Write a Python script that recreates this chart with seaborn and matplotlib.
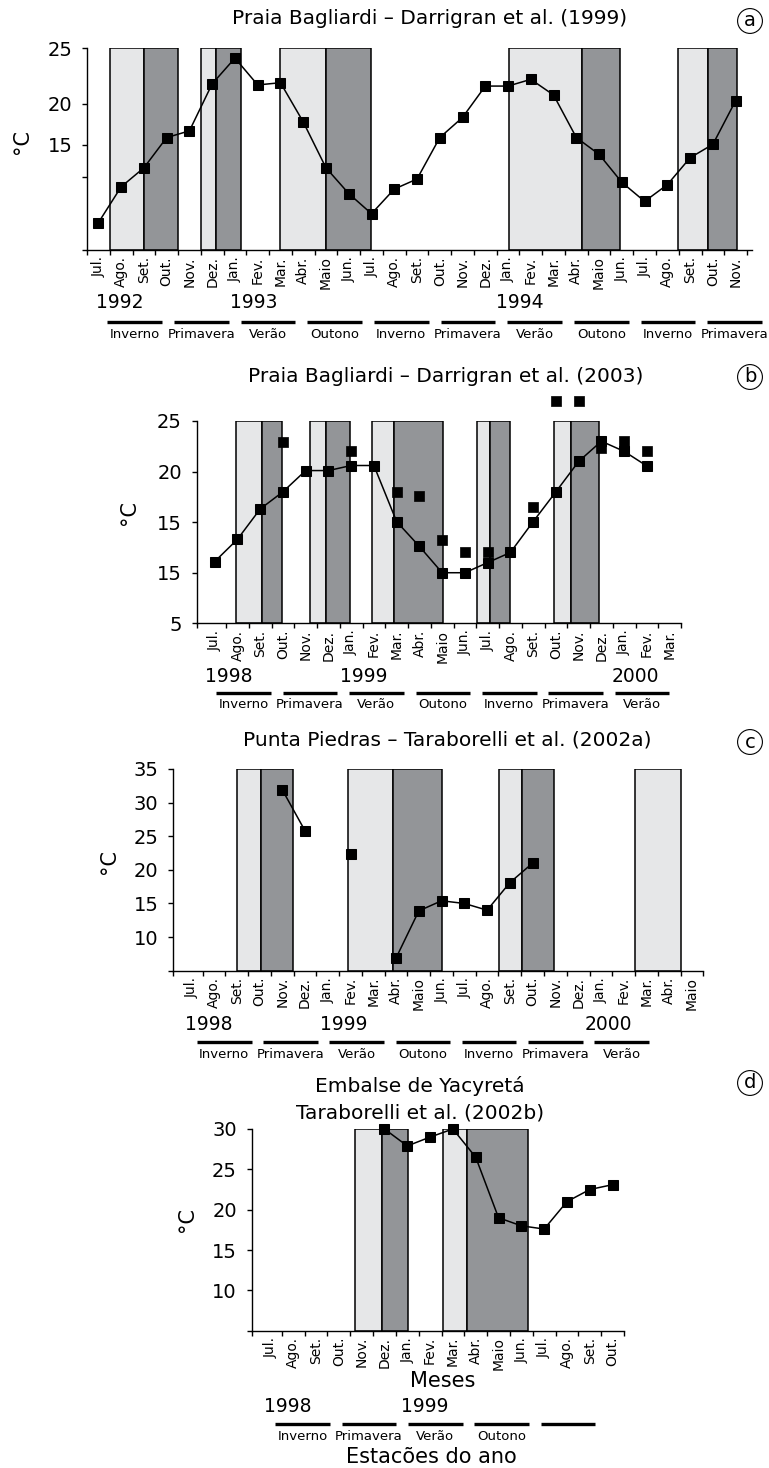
import numpy as np
import pandas as pd
import matplotlib
matplotlib.use('Agg')
import matplotlib.pyplot as plt
import seaborn as sns
from matplotlib.transforms import blended_transform_factory
from matplotlib.lines import Line2D

sns.set_style('ticks')
plt.rcParams['font.family'] = ['DejaVu Sans']
plt.rcParams['text.color'] = 'black'
plt.rcParams['axes.labelcolor'] = 'black'
plt.rcParams['xtick.color'] = 'black'
plt.rcParams['ytick.color'] = 'black'
plt.rcParams['xtick.labelcolor'] = 'black'
plt.rcParams['ytick.labelcolor'] = 'black'

W, H = 769, 1468
nan = np.nan

# ------------------------------------------------------------------ data
months_a = ['Jul.', 'Ago.', 'Set.', 'Out.', 'Nov.', 'Dez.',
            'Jan.', 'Fev.', 'Mar.', 'Abr.', 'Maio', 'Jun.', 'Jul.', 'Ago.', 'Set.', 'Out.', 'Nov.', 'Dez.',
            'Jan.', 'Fev.', 'Mar.', 'Abr.', 'Maio', 'Jun.', 'Jul.', 'Ago.', 'Set.', 'Out.', 'Nov.']
temp_a = [9.4, 12.6, 14.3, 17.0, 17.6, 21.8,
          24.1, 21.7, 21.9, 18.4, 14.3, 12.0, 10.2, 12.4, 13.3, 17.0, 18.8, 21.6,
          21.6, 22.2, 20.8, 17.0, 15.5, 13.0, 11.3, 12.8, 15.2, 16.4, 20.3]
light_a = [(1.0, 2.5), (5.0, 5.68), (8.5, 10.5), (18.53, 21.76), (25.98, 27.3)]
dark_a = [(2.5, 4.0), (5.68, 6.75), (10.5, 12.48), (21.76, 23.42), (27.3, 28.55)]
yticks_a = [25, 20, 16.34, 13.48, 6.96]
ytick_labels_a = ['25', '20', '15', '', '']
years_a = ['1992', '1993', '1994']
seasons_a = ['Inverno', 'Primavera', 'Verão', 'Outono', 'Inverno', 'Primavera',
             'Verão', 'Outono', 'Inverno', 'Primavera']

months_b = ['Jul.', 'Ago.', 'Set.', 'Out.', 'Nov.', 'Dez.',
            'Jan.', 'Fev.', 'Mar.', 'Abr.', 'Maio', 'Jun.', 'Jul.', 'Ago.', 'Set.', 'Out.', 'Nov.', 'Dez.',
            'Jan.', 'Fev.', 'Mar.']
temp_b = [11.1, 13.3, 16.3, 18.0, 20.1, 20.1,
          20.6, 20.6, 15.05, 12.6, 10.0, 10.0, 11.0, 12.0, 15.05, 18.0, 21.0, 23.0,
          22.0, 20.55, nan]
temp_b_extra = [nan, nan, nan, 22.95, nan, nan,
                22.06, nan, 18.0, 17.6, 13.2, 12.0, 12.0, nan, 16.5, 27.0, 27.0, 22.3,
                23.0, 22.06, nan]
light_b = [(1.44, 2.60), (4.68, 5.40), (7.40, 8.38), (12.03, 12.60), (15.41, 16.17)]
dark_b = [(2.60, 3.46), (5.40, 6.47), (8.38, 10.52), (12.60, 13.50), (16.17, 17.40)]
yticks_b = [25, 20, 15, 10, 5]
ytick_labels_b = ['25', '20', '15', '15', '5']
years_b = ['1998', '1999', '2000']
seasons_b = ['Inverno', 'Primavera', 'Verão', 'Outono', 'Inverno', 'Primavera', 'Verão']

months_c = ['Jul.', 'Ago.', 'Set.', 'Out.', 'Nov.', 'Dez.',
            'Jan.', 'Fev.', 'Mar.', 'Abr.', 'Maio', 'Jun.', 'Jul.', 'Ago.', 'Set.', 'Out.', 'Nov.', 'Dez.',
            'Jan.', 'Fev.', 'Mar.', 'Abr.', 'Maio']
temp_c = [nan, nan, nan, nan, 31.9, 25.8,
          nan, 22.4, nan, 6.9, 13.9, 15.4, 15.0, 14.0, 18.1, 21.0, nan, nan,
          nan, nan, nan, nan, nan]
light_c = [(2.52, 3.55), (7.38, 9.35), (14.01, 15.02), (20.0, 22.01)]
dark_c = [(3.55, 4.98), (9.35, 11.51), (15.02, 16.44)]
yticks_c = [35, 30, 25, 20, 15, 10, 5]
ytick_labels_c = ['35', '30', '25', '20', '15', '10', '']
years_c = ['1998', '1999', '2000']
seasons_c = ['Inverno', 'Primavera', 'Verão', 'Outono', 'Inverno', 'Primavera', 'Verão']

months_d = ['Jul.', 'Ago.', 'Set.', 'Out.', 'Nov.', 'Dez.',
            'Jan.', 'Fev.', 'Mar.', 'Abr.', 'Maio', 'Jun.', 'Jul.', 'Ago.', 'Set.', 'Out.']
temp_d = [nan, nan, nan, nan, nan, 30.0,
          27.9, 29.0, 30.0, 26.5, 19.0, 18.0, 17.6, 21.0, 22.5, 23.1]
light_d = [(4.22, 5.39), (8.05, 9.10)]
dark_d = [(5.39, 6.52), (9.10, 11.79)]
yticks_d = [30, 25, 20, 15, 10, 5]
ytick_labels_d = ['30', '25', '20', '15', '10', '']
years_d = ['1998', '1999']
seasons_d = ['Inverno', 'Primavera', 'Verão', 'Outono', '']

titles = ['Praia Bagliardi – Darrigran et al. (1999)',
          'Praia Bagliardi – Darrigran et al. (2003)',
          'Punta Piedras – Taraborelli et al. (2002a)',
          ['Embalse de Yacyretá', 'Taraborelli et al. (2002b)']]
letters = ['a', 'b', 'c', 'd']

# ------------------------------------------------------------------ layout (pixels)
LIGHT = '#e6e7e8'
DARK = '#939598'

panels = [
    dict(months=months_a, temp=temp_a, extra=None, light=light_a, dark=dark_a,
         yt=yticks_a, ytl=ytick_labels_a, ylim=(6.96, 25), xlim=(0, 29.2),
         box=(87, 48, 751.6, 250), years=years_a, year_x=[1.45, 7.34, 19.0], year_y=302,
         seasons=seasons_a, s0=2.09, sstep=2.93, sline_y=322, stext_y=334,
         title_xy=(430, 19), letter_y=21, unit_xy=(22, 141)),
    dict(months=months_b, temp=temp_b, extra=temp_b_extra, light=light_b, dark=dark_b,
         yt=yticks_b, ytl=ytick_labels_b, ylim=(5, 25), xlim=(-0.29, 21.0),
         box=(196.7, 421, 681, 623.3), years=years_b, year_x=[1.13, 7.04, 19.0], year_y=676.5,
         seasons=seasons_b, s0=1.77, sstep=2.92, sline_y=693.3, stext_y=705,
         title_xy=(445.5, 376), letter_y=377, unit_xy=(129, 512)),
    dict(months=months_c, temp=temp_c, extra=None, light=light_c, dark=dark_c,
         yt=yticks_c, ytl=ytick_labels_c, ylim=(5, 35), xlim=(-0.29, 23.0),
         box=(173.3, 769, 703.3, 970.7), years=years_c, year_x=[1.28, 7.21, 18.82], year_y=1024.5,
         seasons=seasons_c, s0=1.95, sstep=2.91, sline_y=1041.7, stext_y=1054,
         title_xy=(447.5, 740), letter_y=742, unit_xy=(109, 862)),
    dict(months=months_d, temp=temp_d, extra=None, light=light_d, dark=dark_d,
         yt=yticks_d, ytl=ytick_labels_d, ylim=(5, 30), xlim=(-0.32, 16.0),
         box=(251.7, 1129, 624, 1330.7), years=years_d, year_x=[1.28, 7.25], year_y=1406.5,
         seasons=seasons_d, s0=1.91, sstep=2.91, sline_y=1424.3, stext_y=1436.7,
         title_xy=(420, 1086), letter_y=1083, unit_xy=(187, 1220)),
]


def fx(px):
    return px / W


def fy(py):
    return 1 - py / H


fig = plt.figure(figsize=(W / 100, H / 100), dpi=100)

for i, p in enumerate(panels):
    l, t, r, b = p['box']
    ax = fig.add_axes([fx(l), fy(b), (r - l) / W, (b - t) / H])
    n = len(p['months'])

    # reproduction-period boxes
    for s, e in p['light']:
        ax.axvspan(s, e, ymin=0, ymax=1, facecolor=LIGHT, edgecolor='black', lw=1.1, zorder=1)
    for s, e in p['dark']:
        ax.axvspan(s, e, ymin=0, ymax=1, facecolor=DARK, edgecolor='black', lw=1.1, zorder=1)

    # temperature series, broken at missing months
    y = np.array(p['temp'], dtype=float)
    valid = ~np.isnan(y)
    seg = np.cumsum(np.r_[True, valid[1:] != valid[:-1]])
    df = pd.DataFrame({'x': np.arange(n) + 0.5, 'y': y, 'seg': seg})[valid]
    sns.lineplot(data=df, x='x', y='y', units='seg', estimator=None, sort=True,
                 color='black', lw=1.1, marker='s', markersize=7,
                 markeredgecolor='black', ax=ax, legend=False, zorder=3)
    for ln in ax.lines:
        ln.set_clip_on(False)

    if p['extra'] is not None:
        ye = np.array(p['extra'], dtype=float)
        dfe = pd.DataFrame({'x': np.arange(n) + 0.5, 'y': ye}).dropna()
        sns.scatterplot(data=dfe, x='x', y='y', marker='s', s=50, color='black',
                        edgecolor='black', linewidth=0.5, ax=ax, legend=False, zorder=4)
        for c in ax.collections:
            c.set_clip_on(False)

    ax.set_xlim(*p['xlim'])
    ax.set_ylim(*p['ylim'])
    ax.set_xlabel('')
    ax.set_ylabel('')
    for side in ['top', 'right']:
        ax.spines[side].set_visible(False)
    for side in ['left', 'bottom']:
        ax.spines[side].set_color('black')
        ax.spines[side].set_linewidth(1.0)
        ax.spines[side].set_zorder(5)

    ax.set_yticks(p['yt'])
    ax.set_yticklabels(p['ytl'])
    ax.tick_params(axis='y', length=3.6, width=1.0, pad=7, labelsize=14,
                   colors='black', labelcolor='black')

    ax.set_xticks(np.arange(n) + 0.5)
    ax.set_xticklabels(p['months'], rotation=90, fontsize=10)
    ax.tick_params(axis='x', which='major', length=0, pad=4.5, labelcolor='black')
    edges = [p['xlim'][0]] + list(range(1, n + 1))
    ax.set_xticks(edges, minor=True)
    ax.tick_params(axis='x', which='minor', length=3.6, width=1.0, color='black')

    blend = blended_transform_factory(ax.transData, fig.transFigure)

    for yr, xx in zip(p['years'], p['year_x']):
        ax.text(xx, fy(p['year_y']), yr, transform=blend, ha='center', va='center',
                fontsize=13.5, color='black', clip_on=False)

    for k, sname in enumerate(p['seasons']):
        c = p['s0'] + k * p['sstep']
        fig.add_artist(Line2D([c - 1.2, c + 1.2], [fy(p['sline_y'])] * 2, transform=blend,
                              color='black', lw=2.4, solid_capstyle='butt'))
        if sname:
            ax.text(c, fy(p['stext_y']), sname, transform=blend, ha='center', va='center',
                    fontsize=9.5, color='black', clip_on=False)

    # title, panel letter, unit label
    tx, ty = p['title_xy']
    if isinstance(titles[i], list):
        fig.text(fx(tx), fy(ty), titles[i][0], ha='center', va='center', fontsize=14.5, color='black')
        fig.text(fx(tx), fy(ty + 27), titles[i][1], ha='center', va='center', fontsize=14.5, color='black')
    else:
        fig.text(fx(tx), fy(ty), titles[i], ha='center', va='center', fontsize=14.5, color='black')
    fig.text(fx(750), fy(p['letter_y']), letters[i], ha='center', va='center', fontsize=14,
             color='black',
             bbox=dict(boxstyle='circle,pad=0.15', fc='none', ec='black', lw=0.8))
    ux, uy = p['unit_xy']
    fig.text(fx(ux), fy(uy), '°C', rotation=90, ha='center', va='center', fontsize=15, color='black')

fig.text(fx(443), fy(1381), 'Meses', ha='center', va='center', fontsize=15, color='black')
fig.text(fx(431.7), fy(1457), 'Estacões do ano', ha='center', va='center', fontsize=15, color='black')

fig.savefig('out.png', dpi=100)
